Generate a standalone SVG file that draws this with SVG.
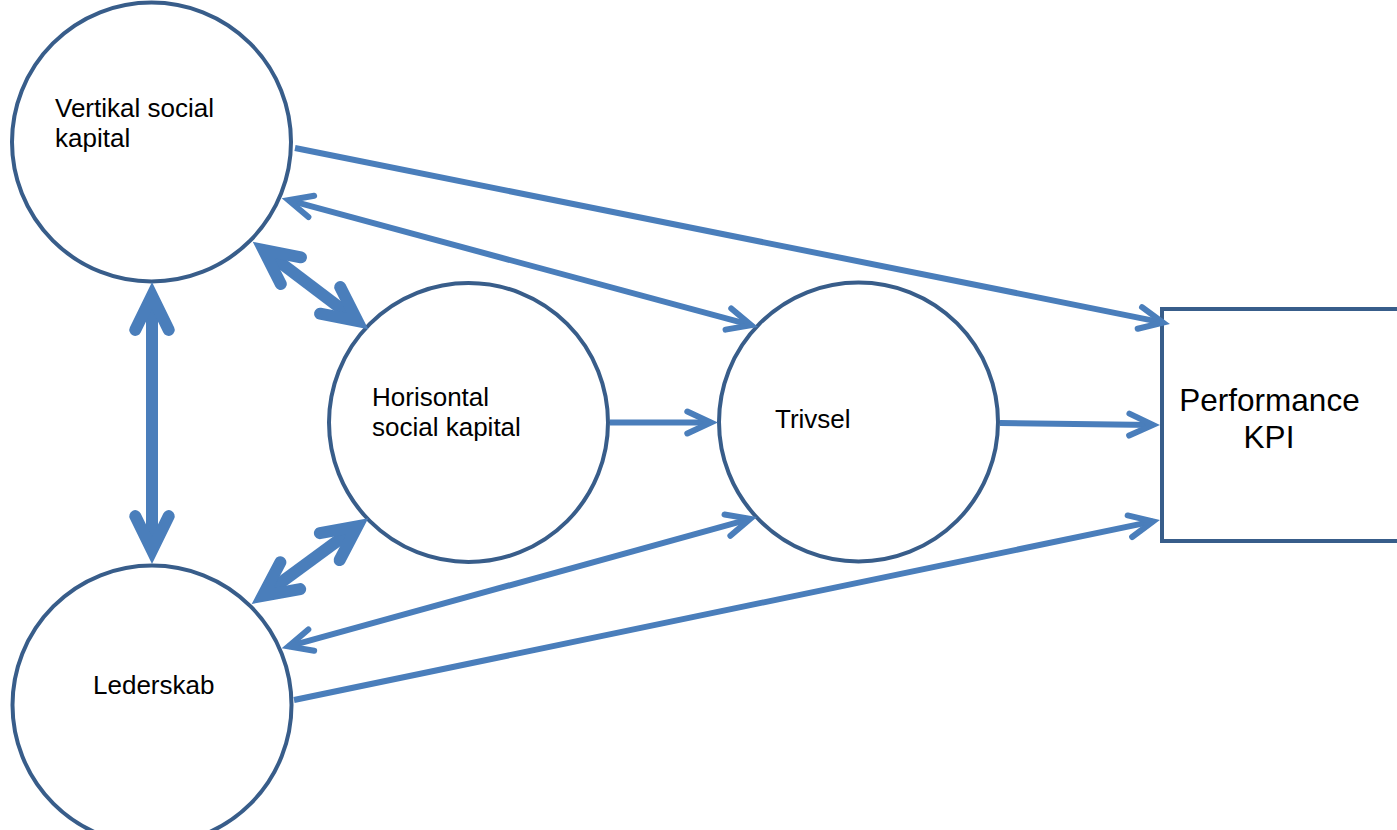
<svg xmlns="http://www.w3.org/2000/svg" width="1397" height="830" viewBox="0 0 1397 830">
  <style>
    .node { fill: #ffffff; stroke: #385D8A; stroke-width: 4; }
    .lbl { font-family: "Liberation Sans", Arial, sans-serif; font-size: 26px; fill: #000000; }
    .lblbig { font-family: "Liberation Sans", Arial, sans-serif; font-size: 31.5px; fill: #000000; text-anchor: middle; }
    .thin { fill: none; stroke: #4A7EBB; stroke-width: 6; marker-end: url(#thinHead); }
    .thin2 { fill: none; stroke: #4A7EBB; stroke-width: 6; marker-start: url(#thinHead); marker-end: url(#thinHead); }
    .thick2 { fill: none; stroke: #4A7EBB; stroke-width: 12; marker-start: url(#thickHead); marker-end: url(#thickHead); }
  </style>
  <defs>
    <marker id="thinHead" markerUnits="userSpaceOnUse" orient="auto-start-reverse" refX="0" refY="0" markerWidth="80" markerHeight="80" viewBox="-40 -40 80 80" overflow="visible">
      <path d="M -23.6,-11 L 0,0 L -23.6,11" fill="none" stroke="#4A7EBB" stroke-width="6" stroke-linecap="round" stroke-linejoin="miter" stroke-miterlimit="10"/>
    </marker>
    <marker id="thickHead" markerUnits="userSpaceOnUse" orient="auto-start-reverse" refX="0" refY="0" markerWidth="120" markerHeight="120" viewBox="-60 -60 120 120" overflow="visible">
      <path d="M -34.2,-16.7 L 0,0 L -34.2,16.7" fill="none" stroke="#4A7EBB" stroke-width="12" stroke-linecap="round" stroke-linejoin="miter" stroke-miterlimit="10"/>
    </marker>
  </defs>

  <g id="node-vertikal">
    <circle class="node" cx="151.5" cy="142" r="139.5"/>
    <text class="lbl" x="55" y="117">Vertikal social</text>
    <text class="lbl" x="55" y="147">kapital</text>
  </g>
  <g id="node-horisontal">
    <circle class="node" cx="468.5" cy="422.5" r="139.5"/>
    <text class="lbl" x="372" y="406">Horisontal</text>
    <text class="lbl" x="372" y="436">social kapital</text>
  </g>
  <g id="node-trivsel">
    <circle class="node" cx="858.5" cy="422" r="139.5"/>
    <text class="lbl" x="775" y="428">Trivsel</text>
  </g>
  <g id="node-lederskab">
    <circle class="node" cx="152" cy="705" r="139.5"/>
    <text class="lbl" x="93" y="694">Lederskab</text>
  </g>
  <g id="node-performance">
    <rect class="node" x="1162" y="309" width="260" height="232"/>
    <text class="lblbig" x="1269.5" y="411">Performance</text>
    <text class="lblbig" x="1269" y="448">KPI</text>
  </g>

  <g id="connectors">
    <path class="thin" d="M 295,148 L 1163,322.6"/>
    <path class="thin" d="M 1000,423 L 1152.9,424.9"/>
    <path class="thin" d="M 294,700 L 1153,521.4"/>
    <path class="thin" d="M 610,422.5 L 710.9,422.5"/>
    <path class="thin2" d="M 288.5,200.2 L 751.2,325.2"/>
    <path class="thin2" d="M 288.5,646.4 L 750.2,518.9"/>
    <path class="thick2" d="M 263.6,250 L 357.4,321"/>
    <path class="thick2" d="M 357.3,526.4 L 262.7,595.9"/>
    <path class="thick2" d="M 152,295.7 L 152,550.3"/>
  </g>
</svg>
